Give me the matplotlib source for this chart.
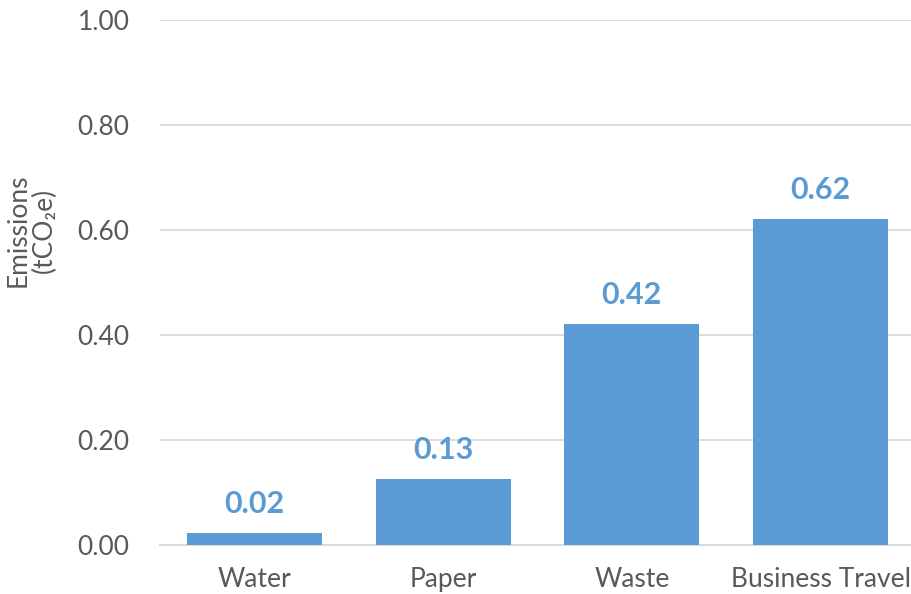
import matplotlib
matplotlib.use("Agg")
import matplotlib.pyplot as plt

categories = ["Water", "Paper", "Waste", "Business Travel"]
values = [0.023, 0.126, 0.421, 0.621]
yticks = [0.0, 0.2, 0.4, 0.6, 0.8, 1.0]

BAR = "#5B9BD5"
TXT = "#595959"
GRID = "#D9D9D9"
FONT = ["Lato", "DejaVu Sans"]

fig = plt.figure(figsize=(9.12, 5.94), dpi=100)
ax = fig.add_axes([160/912, 49/594, 755/912, 525/594])

x = range(len(categories))
bars = ax.bar(x, values, width=0.714, color=BAR, zorder=3)
for xi, v in zip(x, values):
    ax.annotate(f"{v:.2f}", (xi, v), xytext=(0, 11), textcoords="offset points",
                ha="center", va="bottom", color=BAR, fontsize=22, fontweight="bold",
                family=FONT)

ax.set_xlim(-0.5, 3.5)
ax.set_ylim(0, 1.0)
ax.set_yticks(yticks)
ax.set_yticklabels([f"{t:.2f}" for t in yticks], family=FONT, fontsize=19, color=TXT)
ax.set_xticks(list(x))
ax.set_xticklabels(categories, family=FONT, fontsize=19, color=TXT)
ax.tick_params(axis="both", length=0)
ax.tick_params(axis="y", pad=22)
ax.tick_params(axis="x", pad=16)
ax.grid(axis="y", color=GRID, linewidth=1.3, zorder=0)
for s in ["top", "right", "left"]:
    ax.spines[s].set_visible(False)
ax.spines["bottom"].set_color(GRID)
ax.spines["bottom"].set_linewidth(1.3)

fig.text(31/912, 1 - 230/594, "Emissions\n(tCO\u2082e)", rotation=90, ha="center", va="center",
         family=FONT, fontsize=19, color=TXT, linespacing=1.05)

fig.savefig("out.png", dpi=100)
